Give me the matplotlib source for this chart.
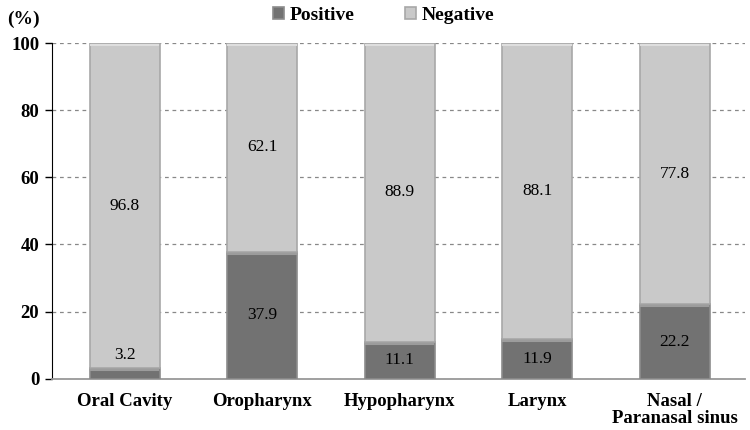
import matplotlib
matplotlib.use('Agg')
import matplotlib.pyplot as plt
import numpy as np

# chart values
sites = ['Oral Cavity', 'Oropharynx', 'Hypopharynx', 'Larynx', 'Nasal /\nParanasal sinus']
positive = [3.2, 37.9, 11.1, 11.9, 22.2]
negative = [96.8, 62.1, 88.9, 88.1, 77.8]

plt.rcParams['font.family'] = ['Liberation Serif', 'DejaVu Serif']

fig = plt.figure(figsize=(7.5, 4.3), dpi=100)
ax = fig.add_axes([0.069, 0.119, 0.924, 0.781])

x = np.arange(len(sites))
w = 0.51
pos_col = '#727272'
neg_col = '#c9c9c9'

ax.bar(x, positive, w, color=pos_col, edgecolor='#8c8c8c', linewidth=1.2, zorder=3, label='Positive')
ax.bar(x, negative, w, bottom=positive, color=neg_col, edgecolor='#a8a8a8', linewidth=1.2, zorder=3, label='Negative')
# light bevel line at the top of each segment
for xi, p, n in zip(x, positive, negative):
    ax.plot([xi - w / 2 + 0.01, xi + w / 2 - 0.01], [p - 0.6, p - 0.6], color='#9c9c9c', lw=1.5, zorder=4)
    ax.plot([xi - w / 2 + 0.01, xi + w / 2 - 0.01], [p + n - 0.6, p + n - 0.6], color='#dedede', lw=1.5, zorder=4)

# value labels, centred in each segment (tiny segment labelled just above)
for xi, p, n in zip(x, positive, negative):
    py = p / 2 if p > 8 else p + 4
    ax.text(xi, py, f'{p:.1f}', ha='center', va='center', fontsize=12.5, zorder=5)
    ax.text(xi, p + n / 2, f'{n:.1f}', ha='center', va='center', fontsize=12.5, zorder=5)

ax.set_ylim(0, 100)
ax.set_xlim(-0.53, 4.51)
ax.set_yticks([0, 20, 40, 60, 80, 100])
ax.set_xticks(x)
ax.set_xticklabels(sites, fontsize=13.5, fontweight='bold', linespacing=1.0)
for lbl in ax.get_yticklabels():
    lbl.set_fontweight('bold')
    lbl.set_fontsize(13.5)
ax.tick_params(axis='x', length=0, pad=10)
ax.tick_params(axis='y', length=5, width=1, direction='out', pad=4)

ax.yaxis.grid(True, linestyle=(0, (3, 3)), color='#888888', linewidth=0.9, zorder=0)
ax.set_axisbelow(True)
for s in ['top', 'right']:
    ax.spines[s].set_visible(False)
ax.spines['left'].set_color('black')
ax.spines['bottom'].set_color('#999999')
ax.spines['bottom'].set_linewidth(1.3)

fig.text(0.01, 0.955, '(%)', fontsize=14, fontweight='bold', va='center')

leg = ax.legend(loc='upper center', bbox_to_anchor=(0.479, 1.16), ncol=2, frameon=False,
                prop={'weight': 'bold', 'size': 14}, handlelength=0.55, handleheight=0.55,
                handletextpad=0.3, columnspacing=2.6)

fig.savefig('out.png', dpi=100)
